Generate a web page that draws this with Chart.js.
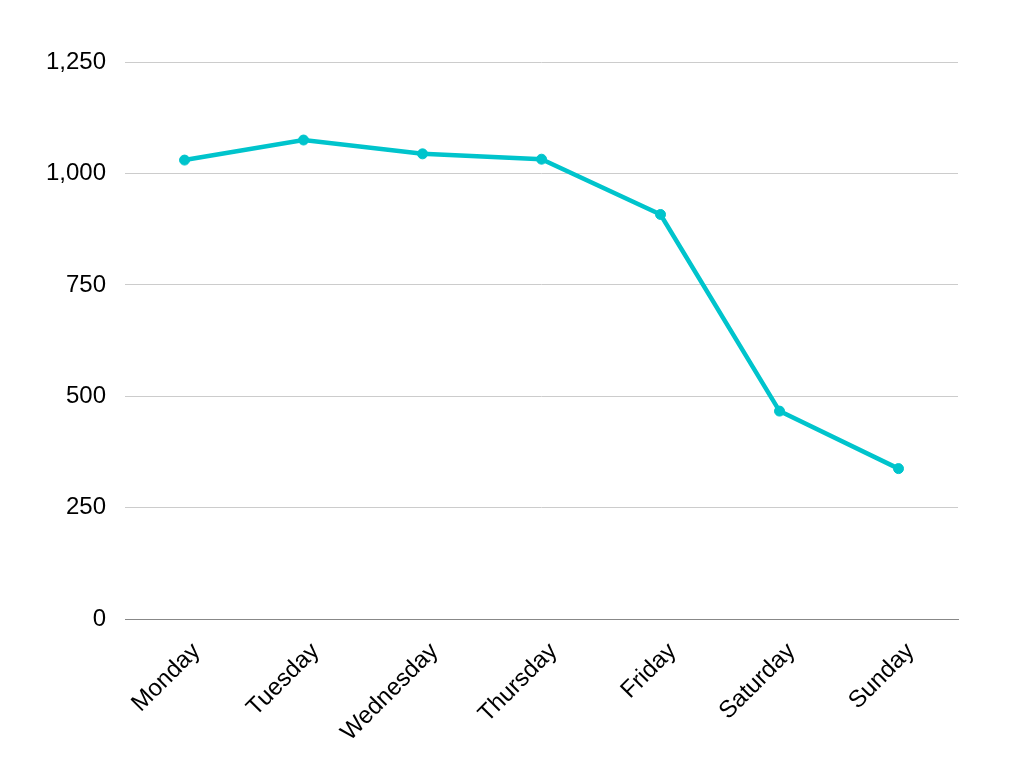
<!DOCTYPE html>
<html>
<head>
<meta charset="utf-8">
<script src="https://cdn.jsdelivr.net/npm/chart.js@4"></script>
<style>
  html, body { margin: 0; padding: 0; background: #fff; }
  #wrap { width: 1024px; height: 768px; }
</style>
</head>
<body>
<div id="wrap"><canvas id="myLineChart" width="1024" height="768"></canvas></div>
<script>
const days = ['Monday', 'Tuesday', 'Wednesday', 'Thursday', 'Friday', 'Saturday', 'Sunday'];
const visits = [1030, 1075, 1044, 1032, 908, 467, 338];
const yMin = 0;
const yMax = 1250;
const yStep = 250;

document.addEventListener("DOMContentLoaded", () => {
    const ctx = document.getElementById('myLineChart').getContext('2d');
    new Chart(ctx, {
        type: 'line',
        data: {
            labels: days,
            datasets: [{
                data: visits,
                borderColor: '#00c4cc',
                backgroundColor: '#00c4cc',
                borderWidth: 4.5,
                pointRadius: 5,
                pointBorderWidth: 1,
                pointHoverRadius: 5,
                tension: 0
            }]
        },
        options: {
            responsive: false,
            animation: false,
            layout: { padding: { top: 62, right: 66, bottom: 3, left: 27 } },
            plugins: {
                legend: { display: false },
                tooltip: { enabled: false }
            },
            scales: {
                x: {
                    offset: true,
                    grid: { display: false, drawTicks: false },
                    border: { display: true, color: '#888888', width: 1 },
                    ticks: {
                        color: '#000',
                        font: { family: 'Liberation Sans', size: 24 },
                        maxRotation: 45,
                        minRotation: 45,
                        padding: 18,
                        labelOffset: 12
                    }
                },
                y: {
                    min: yMin,
                    max: yMax,
                    grid: { color: '#cccccc', lineWidth: 1, drawTicks: false },
                    border: { display: false },
                    ticks: {
                        stepSize: yStep,
                        color: '#000',
                        font: { family: 'Liberation Sans', size: 24 },
                        padding: 19
                    }
                }
            }
        }
    });
});
</script>
</body>
</html>
